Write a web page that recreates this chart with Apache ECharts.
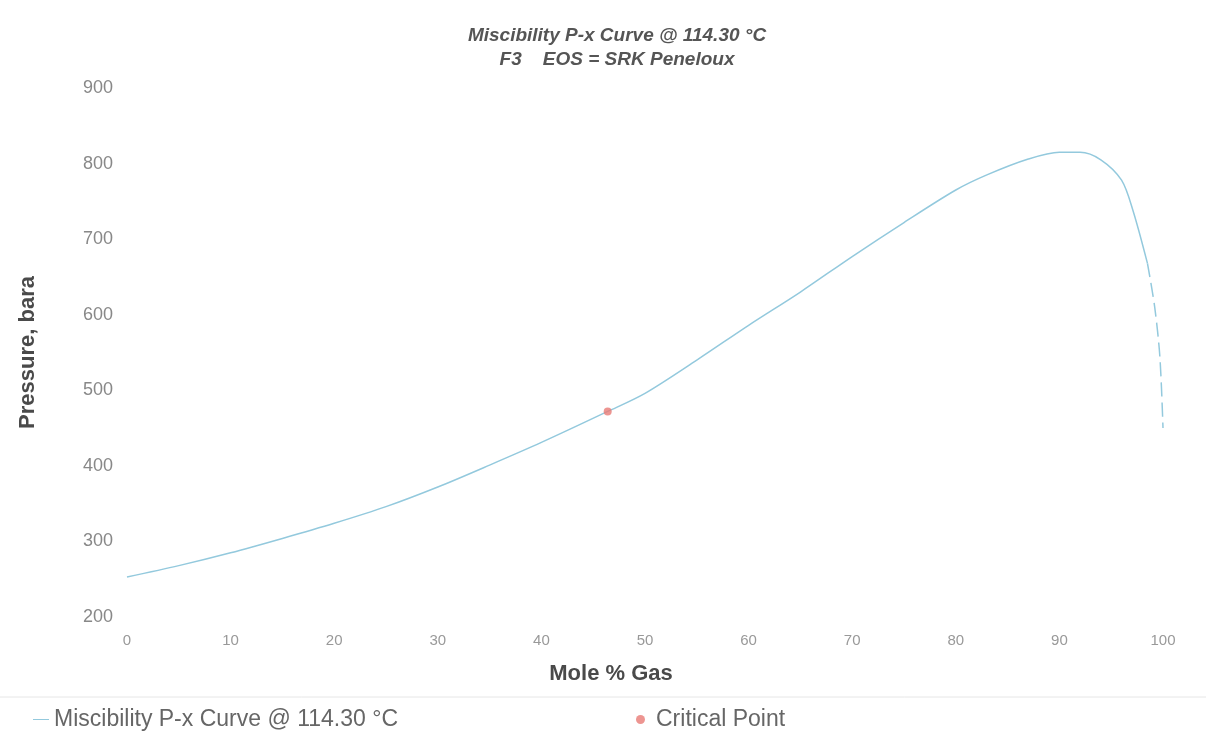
<!DOCTYPE html>
<html><head><meta charset="utf-8">
<script src="https://cdn.jsdelivr.net/npm/echarts@6/dist/echarts.min.js"></script>
<style>html,body{margin:0;padding:0;background:#fff}#c{width:1206px;height:731px}</style>
</head><body><div id="c"></div>
<script>
const curveX = [0, 5, 10, 15, 20, 25, 30, 35, 40, 46.4, 50, 55, 60, 65, 70, 75, 80, 83, 87, 90, 92, 94, 96, 97.1, 98.5];
const curveP = [253, 268, 285, 304, 324, 346, 372, 401, 431, 472, 496, 540, 586, 630, 677, 722, 765, 785, 806, 815, 815, 805, 778, 738, 668];
const tailX = [98.5, 99.2, 99.7, 100];
const tailP = [668, 610, 544, 450];
const criticalX = [46.4];
const criticalP = [472];
const curveName = 'Miscibility P-x Curve @ 114.30 °C';
const pointName = 'Critical Point';

const zip = (a, b) => a.map((v, i) => [v, b[i]]);
const lineColor = '#93c9dd';
const ptColor = '#e97b76';
const font = 'Liberation Sans, Arial, sans-serif';

const chart = echarts.init(document.getElementById('c'), null, {renderer: 'canvas'});
chart.setOption({
  animation: false,
  backgroundColor: '#fff',
  title: {
    text: 'Miscibility P-x Curve @ 114.30 °C\nF3    EOS = SRK Peneloux',
    left: 612, top: 19, textAlign: 'center',
    textStyle: {fontFamily: font, fontSize: 19, fontWeight: 'bold', fontStyle: 'italic', color: '#555', lineHeight: 24}
  },
  grid: {left: 127, right: 43, top: 88, bottom: 114},
  xAxis: {
    type: 'value', min: 0, max: 100, interval: 10,
    name: 'Mole % Gas', nameLocation: 'middle', nameGap: 46,
    nameTextStyle: {fontFamily: font, fontSize: 22, fontWeight: 'bold', color: '#4a4a4a', padding: [0, 68, 0, 0]},
    axisLine: {show: false}, axisTick: {show: false}, splitLine: {show: false},
    axisLabel: {margin: 16, fontFamily: font, fontSize: 15, color: '#999'}
  },
  yAxis: {
    type: 'value', min: 200, max: 900, interval: 100,
    name: 'Pressure, bara', nameLocation: 'middle', nameGap: 88, nameRotate: 90,
    nameTextStyle: {fontFamily: font, fontSize: 22, fontWeight: 'bold', color: '#4a4a4a'},
    axisLine: {show: false}, axisTick: {show: false}, splitLine: {show: false},
    axisLabel: {margin: 14, fontFamily: font, fontSize: 18, color: '#888'}
  },
  legend: [
    {data: [curveName], left: 28, top: 703, itemWidth: 16, itemHeight: 10, icon: 'path://M0,4.5L16,4.5L16,5.5L0,5.5Z',
     textStyle: {fontFamily: font, fontSize: 23, color: '#666'}},
    {data: [{name: pointName, icon: 'circle'}], left: 631, top: 703, itemWidth: 9, itemHeight: 9,
     textStyle: {fontFamily: font, fontSize: 23, color: '#666', padding: [0,0,0,6]}}
  ],
  graphic: [{type: 'line', shape: {x1: 0, y1: 697, x2: 1206, y2: 697}, style: {stroke: '#e6e6e6', lineWidth: 1}}],
  series: [
    {name: curveName, type: 'line', data: zip(curveX, curveP), smooth: 0.3, showSymbol: false,
     lineStyle: {color: lineColor, width: 1.5}, itemStyle: {color: lineColor}},
    {name: curveName, type: 'line', data: zip(tailX, tailP), smooth: 0.3, showSymbol: false,
     lineStyle: {color: lineColor, width: 1.5, type: [14, 6]}, itemStyle: {color: lineColor}},
    {name: pointName, type: 'scatter', data: zip(criticalX, criticalP), symbolSize: 8,
     itemStyle: {color: ptColor}, z: 5}
  ]
});
</script></body></html>
